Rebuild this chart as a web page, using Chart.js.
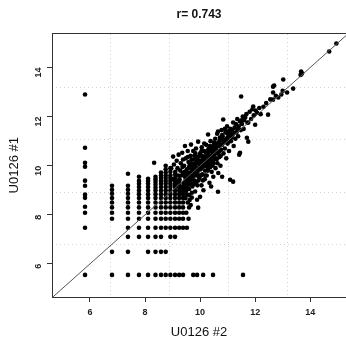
<!DOCTYPE html>
<html>
<head>
<meta charset="utf-8">
<script src="https://cdn.jsdelivr.net/npm/chart.js@4/dist/chart.umd.min.js"></script>
<style>
  body { margin: 0; background: #fff; }
</style>
</head>
<body>
<canvas id="grafico" width="346" height="348"></canvas>
<script>
// Rótulos e limites dos eixos
const xTicks = [6, 8, 10, 12, 14];
const yTicks = [6, 8, 10, 12, 14];
const gridX = [6.76, 8.9, 11.04, 13.18];
const gridY = [6.78, 8.92, 11.06, 13.2];
const xRange = [4.62, 15.3];
const yRange = [4.65, 15.39];
const diagX = [4, 16];

// Colunas discretas (valores baixos)
const colX = [5.82, 6.8, 7.38, 7.78, 8.11, 8.38, 8.58, 8.75, 8.92, 9.09, 9.24, 9.38];
const colY = [
  [12.9, 10.73, 10.12, 9.96, 9.39, 9.18, 8.82, 8.69, 8.33, 8.08, 7.47, 5.55],
  [9.18, 9.02, 8.86, 8.68, 8.5, 8.3, 8.08, 7.84, 6.49, 5.55],
  [9.67, 9.18, 9.02, 8.86, 8.68, 8.5, 8.3, 8.08, 7.84, 7.47, 7.1, 6.49, 5.55],
  [9.55, 9.38, 9.26, 9.13, 8.99, 8.84, 8.68, 8.5, 8.3, 8.08, 7.84, 7.47, 7.1, 5.55],
  [9.47, 9.38, 9.26, 9.13, 8.99, 8.84, 8.68, 8.5, 8.3, 8.08, 7.84, 7.47, 7.1, 6.49, 5.55],
  [9.55, 9.45, 9.34, 9.22, 9.1, 8.99, 8.84, 8.68, 8.5, 8.3, 8.08, 7.84, 7.47, 7.1, 6.49, 5.55],
  [9.72, 9.6, 9.5, 9.38, 9.26, 9.13, 8.99, 8.84, 8.68, 8.5, 8.3, 8.08, 7.84, 7.47, 7.1, 6.49, 5.55],
  [10.0, 9.85, 9.72, 9.6, 9.5, 9.38, 9.26, 9.13, 8.99, 8.84, 8.68, 8.5, 8.3, 8.08, 7.84, 7.47, 6.49, 5.55],
  [9.9, 9.75, 9.6, 9.5, 9.38, 9.26, 9.13, 8.99, 8.84, 8.68, 8.5, 8.3, 8.08, 7.84, 7.47, 7.1, 5.55],
  [9.65, 9.5, 9.38, 9.26, 9.13, 8.99, 8.84, 8.68, 8.5, 8.3, 8.08, 7.84, 7.47, 7.1, 5.55],
  [9.4, 9.26, 9.13, 8.99, 8.84, 8.68, 8.5, 8.3, 8.08, 7.84, 7.47, 5.55],
  [9.1, 8.99, 8.84, 8.68, 8.5, 8.3, 8.08, 7.84, 7.47, 5.55]
];

// Pontos avulsos na base e à direita da grade
const extraPts = [
  [9.75, 5.55], [9.89, 5.55], [10.11, 5.55], [10.47, 5.55], [11.56, 5.55],
  [9.52, 7.47], [9.58, 7.84], [9.5, 8.08], [9.6, 8.3], [9.55, 8.5], [8.33, 10.12],
  [9.47, 8.68], [9.5, 8.84], [9.45, 8.99], [9.52, 9.13], [9.62, 8.6], [9.66, 8.4], [9.7, 8.7]
];

// Nuvem principal ao longo da diagonal
const cloudPts = [
  [9.02, 10.37], [8.95, 9.9], [9.05, 10.05], [9.1, 9.75], [9.15, 10.2], [9.2, 9.6], [9.0, 9.45], [9.12, 9.35],
  [9.18, 9.9], [9.22, 10.45], [9.08, 9.2], [9.25, 9.1], [9.28, 9.8], [9.3, 10.1], [9.3, 8.95],
  [9.35, 10.53], [9.38, 9.7], [9.4, 9.3], [9.42, 10.0], [9.45, 9.55], [9.48, 10.3], [9.5, 9.0], [9.52, 9.85],
  [9.55, 10.6], [9.56, 9.4], [9.58, 10.15], [9.6, 8.8], [9.35, 9.15], [9.4, 8.7], [9.45, 10.8], [9.5, 9.65],
  [9.55, 10.35], [9.6, 9.95], [9.62, 9.25], [9.38, 10.25],
  [9.67, 10.86], [9.65, 10.4], [9.68, 9.6], [9.7, 10.1], [9.72, 9.15], [9.74, 9.8], [9.75, 10.6], [9.78, 9.4],
  [9.8, 10.25], [9.82, 8.95], [9.84, 9.95], [9.85, 10.7], [9.87, 9.6], [9.89, 8.61], [9.88, 10.35], [9.9, 9.2],
  [9.66, 9.9], [9.7, 8.9], [9.76, 10.0], [9.8, 9.7], [9.83, 10.5], [9.86, 9.35],
  [9.93, 10.98], [9.93, 8.29], [9.95, 10.15], [9.97, 9.5], [10.0, 8.73], [10.0, 10.5], [10.02, 9.85], [10.05, 9.2],
  [10.06, 10.75], [10.08, 9.65], [10.1, 10.3], [10.12, 9.0], [10.14, 10.0], [10.15, 10.9], [10.17, 9.45], [10.2, 10.55],
  [9.96, 9.9], [10.04, 10.2], [10.1, 9.4], [10.18, 9.8], [10.2, 10.2], [9.98, 10.4],
  [10.22, 10.85], [10.24, 9.6], [10.26, 10.35], [10.29, 11.27], [10.3, 9.9], [10.32, 10.6], [10.34, 9.3], [10.36, 10.1],
  [10.38, 11.0], [10.4, 10.4], [10.42, 9.75], [10.44, 10.7], [10.46, 10.2], [10.48, 9.55], [10.5, 10.95],
  [10.25, 10.15], [10.35, 10.8], [10.45, 10.0], [10.28, 9.8], [10.4, 9.15],
  [10.52, 10.45], [10.55, 11.1], [10.56, 9.9], [10.58, 10.7], [10.6, 10.25], [10.62, 11.3], [10.64, 10.5], [10.65, 8.94],
  [10.65, 11.39], [10.66, 9.7], [10.68, 10.9], [10.7, 10.35], [10.72, 11.15], [10.74, 10.0], [10.76, 10.65], [10.78, 11.45],
  [10.8, 10.85], [10.8, 9.55], [10.54, 10.8], [10.7, 11.0],
  [10.82, 11.2], [10.84, 11.88], [10.85, 10.5], [10.88, 11.0], [10.9, 10.7], [10.92, 11.35], [10.95, 10.3], [10.96, 11.1],
  [10.98, 11.6], [11.0, 10.9], [11.02, 11.4], [11.05, 10.6], [11.08, 11.2], [11.09, 9.43], [11.1, 11.5], [10.86, 10.95], [11.0, 11.15],
  [11.12, 11.0], [11.15, 11.45], [11.18, 11.25], [11.2, 11.76], [11.2, 9.35], [11.22, 10.8], [11.25, 11.55], [11.28, 11.1],
  [11.3, 11.7], [11.32, 11.35], [11.35, 11.9], [11.38, 11.2], [11.4, 11.6], [11.42, 10.45], [11.45, 10.53], [11.45, 11.8],
  [11.48, 11.45], [11.49, 12.82],
  [11.52, 11.7], [11.55, 12.0], [11.58, 11.5], [11.6, 11.85], [11.64, 11.96], [11.68, 12.1], [11.7, 11.14], [11.72, 11.75],
  [11.75, 11.76], [11.75, 10.98], [11.8, 12.2], [11.85, 11.9], [11.9, 12.3], [11.93, 12.41], [11.95, 12.05], [12.0, 11.67],
  [12.02, 12.25], [12.07, 12.16],
  [12.15, 12.35], [12.2, 12.1], [12.3, 12.4], [12.4, 12.55], [12.47, 12.08], [12.55, 12.7], [12.65, 12.69], [12.65, 12.98],
  [12.65, 13.22], [12.69, 13.27], [12.75, 12.85], [12.84, 12.78], [12.95, 12.9], [13.02, 13.51], [13.16, 12.98], [13.38, 13.14], [13.0, 13.05],
  [13.67, 13.84], [13.7, 13.76], [13.65, 13.7], [14.69, 14.65], [14.95, 14.98],
  [9.25, 9.45], [9.32, 9.6], [9.36, 9.95], [9.44, 9.75], [9.46, 9.1], [9.53, 9.3], [9.57, 9.7], [9.63, 10.05],
  [9.64, 9.45], [9.69, 10.25], [9.73, 9.55], [9.77, 9.25], [9.79, 10.4], [9.81, 9.85], [9.88, 10.1], [9.91, 9.75],
  [9.94, 9.4], [9.99, 10.05], [10.03, 9.6], [10.07, 10.4], [10.09, 9.95], [10.13, 10.6], [10.16, 10.15], [10.19, 9.6],
  [10.23, 10.45], [10.27, 10.0], [10.31, 10.7], [10.33, 10.25], [10.37, 9.95], [10.41, 10.6], [10.43, 10.3], [10.47, 10.8],
  [10.49, 10.1], [10.53, 10.6], [10.57, 10.3], [10.61, 10.9], [10.63, 10.1], [10.67, 10.55], [10.71, 10.8], [10.75, 10.4],
  [9.42, 9.2], [9.48, 9.45], [9.54, 9.15], [9.58, 9.55], [9.6, 9.05], [9.65, 9.3], [9.68, 9.75], [9.72, 9.95],
  [9.78, 9.6], [9.82, 10.1], [9.86, 9.8], [9.92, 10.25], [9.95, 9.6], [10.0, 9.95], [10.05, 10.6], [10.1, 10.1],
  [10.15, 10.35], [10.2, 10.0], [10.25, 10.6], [10.3, 10.45], [10.35, 10.3], [10.4, 10.75], [10.45, 10.55], [10.5, 10.35],
  [10.55, 10.9], [10.6, 10.6], [10.65, 10.8], [10.7, 10.6], [10.75, 11.05], [10.8, 11.25], [10.85, 11.05], [10.9, 11.5],
  [10.95, 10.95], [11.0, 11.3], [11.05, 11.0], [11.1, 11.3], [11.15, 11.15], [11.25, 11.35], [11.35, 11.5], [11.5, 11.85]
];

function montarPontos() {
  const pontos = [];
  colX.forEach((x, i) => colY[i].forEach(y => pontos.push({ x: x, y: y })));
  extraPts.concat(cloudPts).forEach(p => pontos.push({ x: p[0], y: p[1] }));
  return pontos;
}

const corEixo = "#333";
const corGrade = "#d0d0d0";

// Zera o recuo extra que o Chart.js reserva nas pontas dos eixos
function semRecuo(s) {
  s.paddingLeft = 0;
  s.paddingRight = 0;
  s.paddingTop = 0;
  s.paddingBottom = 0;
}

new Chart(document.getElementById("grafico"), {
  type: "scatter",
  data: {
    datasets: [
      {
        type: "line",
        data: diagX.map(v => ({ x: v, y: v })),
        borderColor: "#555",
        borderWidth: 1,
        pointRadius: 0,
        fill: false,
        xAxisID: "x",
        yAxisID: "y"
      },
      {
        data: montarPontos(),
        backgroundColor: "#000",
        borderWidth: 0,
        pointRadius: 2.3,
        xAxisID: "x",
        yAxisID: "y"
      }
    ]
  },
  options: {
    responsive: false,
    animation: false,
    layout: { padding: 0, autoPadding: false },
    plugins: {
      legend: { display: false },
      tooltip: { enabled: false },
      title: {
        display: true,
        text: "r= 0.743",
        fullSize: false,
        color: "#111",
        font: { family: "Liberation Sans, Arial", size: 12, weight: "bold" },
        padding: { top: 7, bottom: 12 }
      }
    },
    scales: {
      x: {
        type: "linear",
        position: "bottom",
        min: xRange[0],
        max: xRange[1],
        afterBuildTicks: s => { s.ticks = xTicks.map(v => ({ value: v })); },
        afterFit: s => { s.height = 51; semRecuo(s); },
        grid: { drawOnChartArea: false, drawTicks: true, tickLength: 5, tickColor: corEixo },
        border: { display: true, color: corEixo, width: 1 },
        ticks: { color: "#222", padding: 5, font: { family: "Liberation Sans, Arial", size: 9, weight: "bold" } },
        title: {
          display: true,
          text: "U0126 #2",
          color: "#111",
          font: { family: "Liberation Sans, Arial", size: 13 },
          padding: { top: 0, bottom: 8 }
        }
      },
      y: {
        type: "linear",
        position: "left",
        min: yRange[0],
        max: yRange[1],
        afterBuildTicks: s => { s.ticks = yTicks.map(v => ({ value: v })); },
        afterFit: s => { s.width = 52; semRecuo(s); },
        grid: { drawOnChartArea: false, drawTicks: true, tickLength: 5, tickColor: corEixo },
        border: { display: true, color: corEixo, width: 1 },
        ticks: {
          color: "#222",
          padding: 8,
          minRotation: 90,
          maxRotation: 90,
          font: { family: "Liberation Sans, Arial", size: 9, weight: "bold" }
        },
        title: {
          display: true,
          text: "U0126 #1",
          color: "#111",
          font: { family: "Liberation Sans, Arial", size: 13 },
          padding: { top: 7, bottom: 0 }
        }
      },
      gx: {
        type: "linear",
        position: "top",
        min: xRange[0],
        max: xRange[1],
        afterBuildTicks: s => { s.ticks = gridX.map(v => ({ value: v })); },
        afterFit: s => { s.height = 0; semRecuo(s); },
        grid: { color: corGrade, lineWidth: 1, drawTicks: false },
        border: { display: true, color: corEixo, width: 1, dash: [1, 3] },
        ticks: { display: false }
      },
      gy: {
        type: "linear",
        position: "right",
        min: yRange[0],
        max: yRange[1],
        afterBuildTicks: s => { s.ticks = gridY.map(v => ({ value: v })); },
        afterFit: s => { s.width = 0; semRecuo(s); },
        grid: { color: corGrade, lineWidth: 1, drawTicks: false },
        border: { display: true, color: corEixo, width: 1, dash: [1, 3] },
        ticks: { display: false }
      }
    }
  }
});
</script>
</body>
</html>
